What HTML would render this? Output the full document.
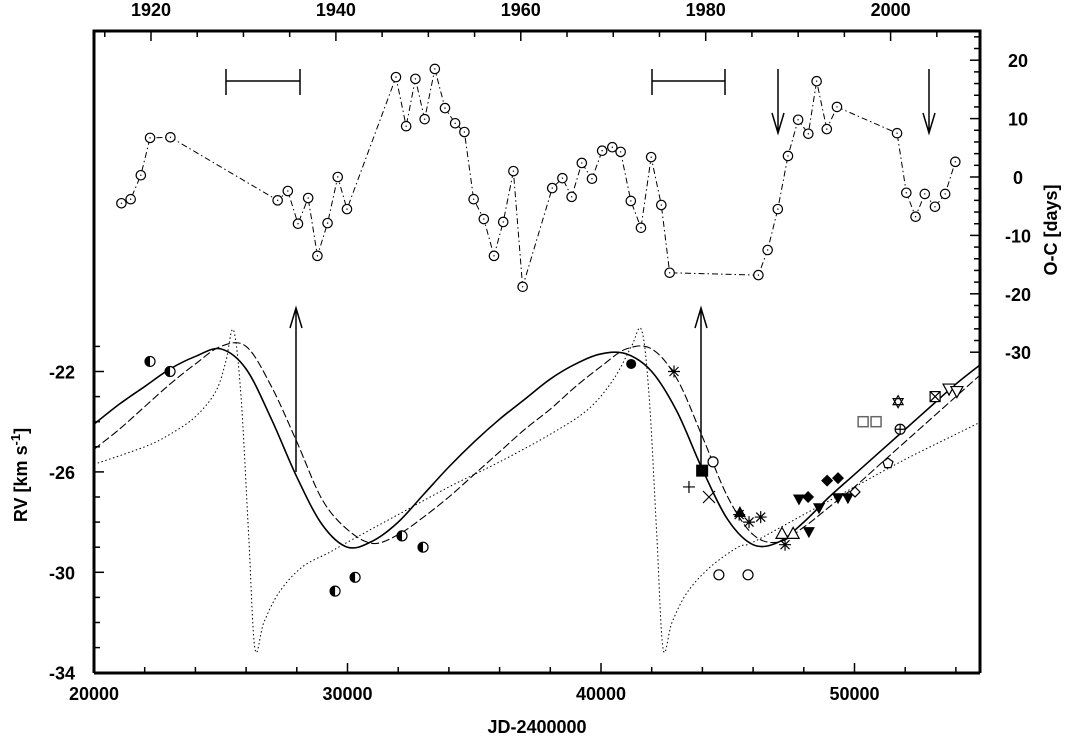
<!DOCTYPE html>
<html><head><meta charset="utf-8"><style>
html,body{margin:0;padding:0;background:#fff}
svg{display:block;font-family:"Liberation Sans",Arial,sans-serif}
</style></head><body>
<svg id="chart" width="1070" height="738" viewBox="0 0 1070 738"></svg>
<script>
// ---- data ----
const ocYears=[1916.8,1917.8,1918.9,1919.9,1922.1,1933.7,1934.8,1935.9,1937.0,1938.0,1939.1,1940.2,1941.2,1946.5,1947.6,1948.6,1949.6,1950.7,1951.8,1952.9,1953.9,1954.9,1956.0,1957.1,1958.1,1959.2,1960.2,1963.4,1964.5,1965.5,1966.6,1967.7,1968.8,1969.9,1970.8,1971.9,1973.0,1974.1,1975.2,1976.1,1985.7,1986.7,1987.8,1988.9,1990.0,1991.1,1992.0,1993.1,1994.2,2000.7,2001.7,2002.7,2003.7,2004.8,2005.9,2007.0];
const ocValues=[-4.5,-3.8,0.3,6.7,6.8,-4.0,-2.4,-8.0,-3.6,-13.5,-7.9,0,-5.5,17.1,8.7,16.8,9.9,18.5,11.8,9.2,7.7,-3.8,-7.2,-13.5,-7.7,1.0,-18.8,-1.9,-0.2,-3.4,2.4,-0.3,4.5,5.1,4.3,-4.1,-8.7,3.4,-4.8,-16.4,-16.8,-12.5,-5.5,3.6,9.8,7.4,16.4,8.2,12.0,7.5,-2.7,-6.8,-2.9,-5.1,-2.9,2.6];
const curveJD=[20000,21000,22000,23000,24000,25000,26000,27000,28000,29000,30000,31000,32000,33000,34000,35000,36000,37000,38000,39000,40000,41000,42000,43000,44000,45000,46000,47000,48000,49000,50000,51000,52000,53000,54000,55000];
const solidRV=[-24.1,-23.3,-22.6,-21.9,-21.4,-21.1,-21.9,-23.9,-26.2,-28.1,-29.0,-28.75,-28.0,-26.9,-25.8,-24.8,-23.9,-23.1,-22.3,-21.7,-21.3,-21.3,-22.0,-23.6,-25.9,-27.9,-28.9,-28.8,-28.0,-27.0,-26.1,-25.2,-24.3,-23.4,-22.5,-21.7];
const dashedRV=[-25.1,-24.3,-23.4,-22.5,-21.7,-21.0,-21.0,-22.6,-24.8,-27.1,-28.3,-28.85,-28.5,-27.8,-27.0,-26.1,-25.2,-24.3,-23.5,-22.6,-21.8,-21.1,-21.1,-22.3,-24.6,-27.0,-28.5,-28.8,-28.2,-27.4,-26.6,-25.7,-24.8,-23.9,-23.0,-22.1];
const dottedJD=[20000,22000,23000,24000,24800,25200,25500,25800,26100,26350,26700,27300,28200,29300,30000,32000,34000,36000,38000,39500,40500,41200,41600,41900,42200,42450,42800,43400,44300,45400,46000,48000,50000,52000,54000,55000];
const dottedRV=[-25.7,-25.0,-24.5,-23.8,-22.8,-21.6,-20.35,-23.0,-28.5,-33.05,-32.0,-30.8,-29.8,-29.2,-28.8,-27.7,-26.6,-25.6,-24.5,-23.5,-22.3,-21.0,-20.35,-23.0,-28.5,-33.05,-32.0,-30.8,-29.8,-29.0,-28.8,-27.7,-26.6,-25.5,-24.5,-24.0];
const obsJD=[22210,23000,29510,30300,32150,32980,41190,42880,45450,45840,46300,47260,43990,44420,44650,45800,43470,44260,45480,47140,47580,47810,48600,48200,49350,49740,48170,48920,49350,51320,50020,50340,50850,51720,51800,53180,53730,54040];
const obsRV=[-21.6,-22.0,-30.75,-30.2,-28.55,-29.0,-21.7,-22.0,-27.7,-28.0,-27.8,-28.9,-25.95,-25.6,-30.1,-30.1,-26.6,-27.0,-27.6,-28.45,-28.45,-27.1,-27.45,-28.4,-27.05,-27.05,-27.0,-26.35,-26.25,-25.65,-26.8,-24.0,-24.0,-23.2,-24.3,-23.0,-22.7,-22.8];
const obsSym=['half','half','half','half','half','half','fcircle','star','star','star','star','star','fsquare','ocircle','ocircle','ocircle','plus','cross','ftri','otri','otri','fdtri','fdtri','fdtri','fdtri','fdtri','fdiam','fdiam','fdiam','pent','odiam','osq','osq','david','cplus','boxx','odtri','odtri'];
const jdTicks=[20000,30000,40000,50000];
const rvTicks=[-22,-26,-30,-34];
const ocTicks=[20,10,0,-10,-20,-30];
const yearTicks=[1920,1940,1960,1980,2000];

// ---- axes ----
const L=94,R=980,T=31,B=673;
const xJD=j=>L+(j-20000)*0.02535;
const yRV=v=>371.5-(v+22)*25.1;
const xYr=y=>151+(y-1920)*184.9/20;
const yOC=d=>177-d*5.84;
const NS='http://www.w3.org/2000/svg';
const svg=document.getElementById('chart');
function mk(tag,at,parent){const e=document.createElementNS(NS,tag);for(const k in at)e.setAttribute(k,at[k]);(parent||svg).appendChild(e);return e;}
function txt(s,x,y,at){const e=mk('text',Object.assign({x:x,y:y,'font-size':18,'font-weight':'bold','text-anchor':'middle',fill:'#000'},at||{}));e.textContent=s;return e;}

const axes=mk('g',{stroke:'#000','stroke-width':1.5});


mk('path',{d:`M${L},${B}L${L},${T}L${R},${T}L${R},${B}`,fill:'none','stroke-width':3},axes);
mk('line',{x1:L,y1:B,x2:R,y2:B,'stroke-width':3},axes);
for(let j=20000;j<=55000;j+=2000){const x=xJD(j);const big=j%10000===0;mk('line',{x1:x,y1:B,x2:x,y2:B-(big?10:6)},axes);}
jdTicks.forEach(j=>{const t=txt(String(j),xJD(j),700);});
for(let v=-34;v<=-21;v++){const y=yRV(v);const big=rvTicks.includes(v);mk('line',{x1:L,y1:y,x2:L+(big?10:6),y2:y},axes);}
rvTicks.forEach(v=>{const t=txt(String(v),62,yRV(v)+7);});
for(let y=1915;y<=2010;y+=5){const x=xYr(y);if(x<L||x>R)continue;const big=y%20===0;mk('line',{x1:x,y1:T,x2:x,y2:T+(big?10:6)},axes);}
yearTicks.forEach(y=>{const t=txt(String(y),xYr(y),16);});
for(let d=-30;d<=24;d+=2){const y=yOC(d);const big=d%10===0;mk('line',{x1:R,y1:y,x2:R-(big?10:6),y2:y},axes);}
ocTicks.forEach(d=>{const t=txt(String(d),1018,yOC(d)+7);});

const xt=txt('JD-2400000',537,733);

const yt=mk('text',{x:0,y:0,'font-size':18,'font-weight':'bold','text-anchor':'middle',transform:'translate(27,475) rotate(-90)'});
yt.innerHTML='RV [km s<tspan dy="-7" font-size="13">-1</tspan><tspan dy="7">]</tspan>';

const ot=mk('text',{x:0,y:0,'font-size':18,'font-weight':'bold','text-anchor':'middle',transform:'translate(1057,230) rotate(-90)'});
ot.textContent='O-C [days]';


// ---- curves ----
function smooth(xs,ys){const p=xs.map((j,i)=>[xJD(j),yRV(ys[i])]);let d=`M${p[0][0]},${p[0][1]}`;for(let i=0;i<p.length-1;i++){const p0=p[Math.max(0,i-1)],p1=p[i],p2=p[i+1],p3=p[Math.min(p.length-1,i+2)];d+=`C${p1[0]+(p2[0]-p0[0])/6},${p1[1]+(p2[1]-p0[1])/6} ${p2[0]-(p3[0]-p1[0])/6},${p2[1]-(p3[1]-p1[1])/6} ${p2[0]},${p2[1]}`;}return d;}
const clip=mk('clipPath',{id:'cp'});mk('rect',{x:L,y:T,width:R-L,height:B-T},clip);
const cs=mk('path',{d:smooth(curveJD,solidRV),fill:'none',stroke:'#000','stroke-width':1.6,'clip-path':'url(#cp)'});

const cd=mk('path',{d:smooth(curveJD,dashedRV),fill:'none',stroke:'#000','stroke-width':1.1,'stroke-dasharray':'8,3','clip-path':'url(#cp)'});

const cdo=mk('path',{d:smooth(dottedJD,dottedRV),fill:'none',stroke:'#000','stroke-width':1,'stroke-dasharray':'1.5,2.5','clip-path':'url(#cp)'});


// ---- O-C series ----
const ocLine=mk('path',{d:ocYears.map((y,i)=>(i?'L':'M')+xYr(y)+','+yOC(ocValues[i])).join(''),fill:'none',stroke:'#000','stroke-width':1,'stroke-dasharray':'6,3,1.5,3'});

ocYears.forEach((y,i)=>{const c=mk('circle',{cx:xYr(y),cy:yOC(ocValues[i]),r:4.7,fill:'#fff',stroke:'#000','stroke-width':1.2});

const d=mk('circle',{cx:xYr(y),cy:yOC(ocValues[i]),r:0.7,fill:'#000'});
});

// ---- annotations ----
const ann=mk('g',{stroke:'#000','stroke-width':1.5,fill:'none'});

[[226,300],[652,725]].forEach(([a,b])=>{mk('path',{d:`M${a},81H${b}M${a},69V95M${b},69V95`},ann);});
[778,929].forEach(x=>{mk('path',{d:`M${x},69V133M${x-6},113L${x},133L${x+6},113`},ann);});
[[296,472],[701,470]].forEach(([x,y])=>{mk('path',{d:`M${x},${y}V308M${x-6},328L${x},308L${x+6},328`},ann);});

// ---- observations ----
function sym(t,x,y){const g=mk('g',{});const s={stroke:'#000','stroke-width':1.2};
switch(t){
case 'half':mk('circle',Object.assign({cx:x,cy:y,r:5,fill:'#fff'},s),g);mk('path',{d:`M${x},${y-5}A5,5 0 0 0 ${x},${y+5}Z`,fill:'#000'},g);break;
case 'fcircle':mk('circle',{cx:x,cy:y,r:5,fill:'#000'},g);break;
case 'ocircle':mk('circle',Object.assign({cx:x,cy:y,r:5,fill:'#fff'},s),g);break;
case 'star':mk('path',Object.assign({d:`M${x-6},${y}H${x+6}M${x},${y-6}V${y+6}M${x-4.5},${y-4.5}L${x+4.5},${y+4.5}M${x-4.5},${y+4.5}L${x+4.5},${y-4.5}`},s),g);break;
case 'fsquare':mk('rect',{x:x-6,y:y-6,width:12,height:12,fill:'#000'},g);break;
case 'plus':mk('path',Object.assign({d:`M${x-6},${y}H${x+6}M${x},${y-6}V${y+6}`},s),g);break;
case 'cross':mk('path',Object.assign({d:`M${x-6},${y-6}L${x+6},${y+6}M${x-6},${y+6}L${x+6},${y-6}`},s),g);break;
case 'ftri':mk('path',{d:`M${x},${y-6}L${x+6},${y+5}L${x-6},${y+5}Z`,fill:'#000'},g);break;
case 'otri':mk('path',Object.assign({d:`M${x},${y-6}L${x+6},${y+5}L${x-6},${y+5}Z`,fill:'#fff'},s),g);break;
case 'fdtri':mk('path',{d:`M${x},${y+6}L${x+6},${y-5}L${x-6},${y-5}Z`,fill:'#000'},g);break;
case 'odtri':mk('path',Object.assign({d:`M${x},${y+6}L${x+6},${y-5}L${x-6},${y-5}Z`,fill:'#fff',stroke:'#555'},s),g);break;
case 'fdiam':mk('path',{d:`M${x},${y-6}L${x+6},${y}L${x},${y+6}L${x-6},${y}Z`,fill:'#000'},g);break;
case 'odiam':mk('path',Object.assign({d:`M${x},${y-5}L${x+5},${y}L${x},${y+5}L${x-5},${y}Z`,fill:'#fff'},s),g);break;
case 'pent':mk('path',Object.assign({d:`M${x},${y-5}L${x+5},${y-1.5}L${x+3},${y+4.5}L${x-3},${y+4.5}L${x-5},${y-1.5}Z`,fill:'#fff'},s),g);break;
case 'osq':mk('rect',{x:x-5,y:y-5,width:10,height:10,fill:'#fff',stroke:'#666','stroke-width':1.5},g);break;
case 'david':mk('path',Object.assign({d:`M${x},${y-6}L${x+5},${y+3}L${x-5},${y+3}ZM${x},${y+6}L${x+5},${y-3}L${x-5},${y-3}Z`,fill:'none'},s),g);break;
case 'cplus':mk('circle',Object.assign({cx:x,cy:y,r:5,fill:'#fff'},s),g);mk('path',Object.assign({d:`M${x-5},${y}H${x+5}M${x},${y-5}V${y+5}`},s),g);break;
case 'boxx':mk('rect',Object.assign({x:x-5,y:y-5,width:10,height:10,fill:'#fff'},s),g);mk('path',Object.assign({d:`M${x-5},${y-5}L${x+5},${y+5}M${x-5},${y+5}L${x+5},${y-5}`},s),g);break;
}
return g;}
obsJD.forEach((j,i)=>{const g=sym(obsSym[i],xJD(j),yRV(obsRV[i]));

});
</script>
</body></html>
